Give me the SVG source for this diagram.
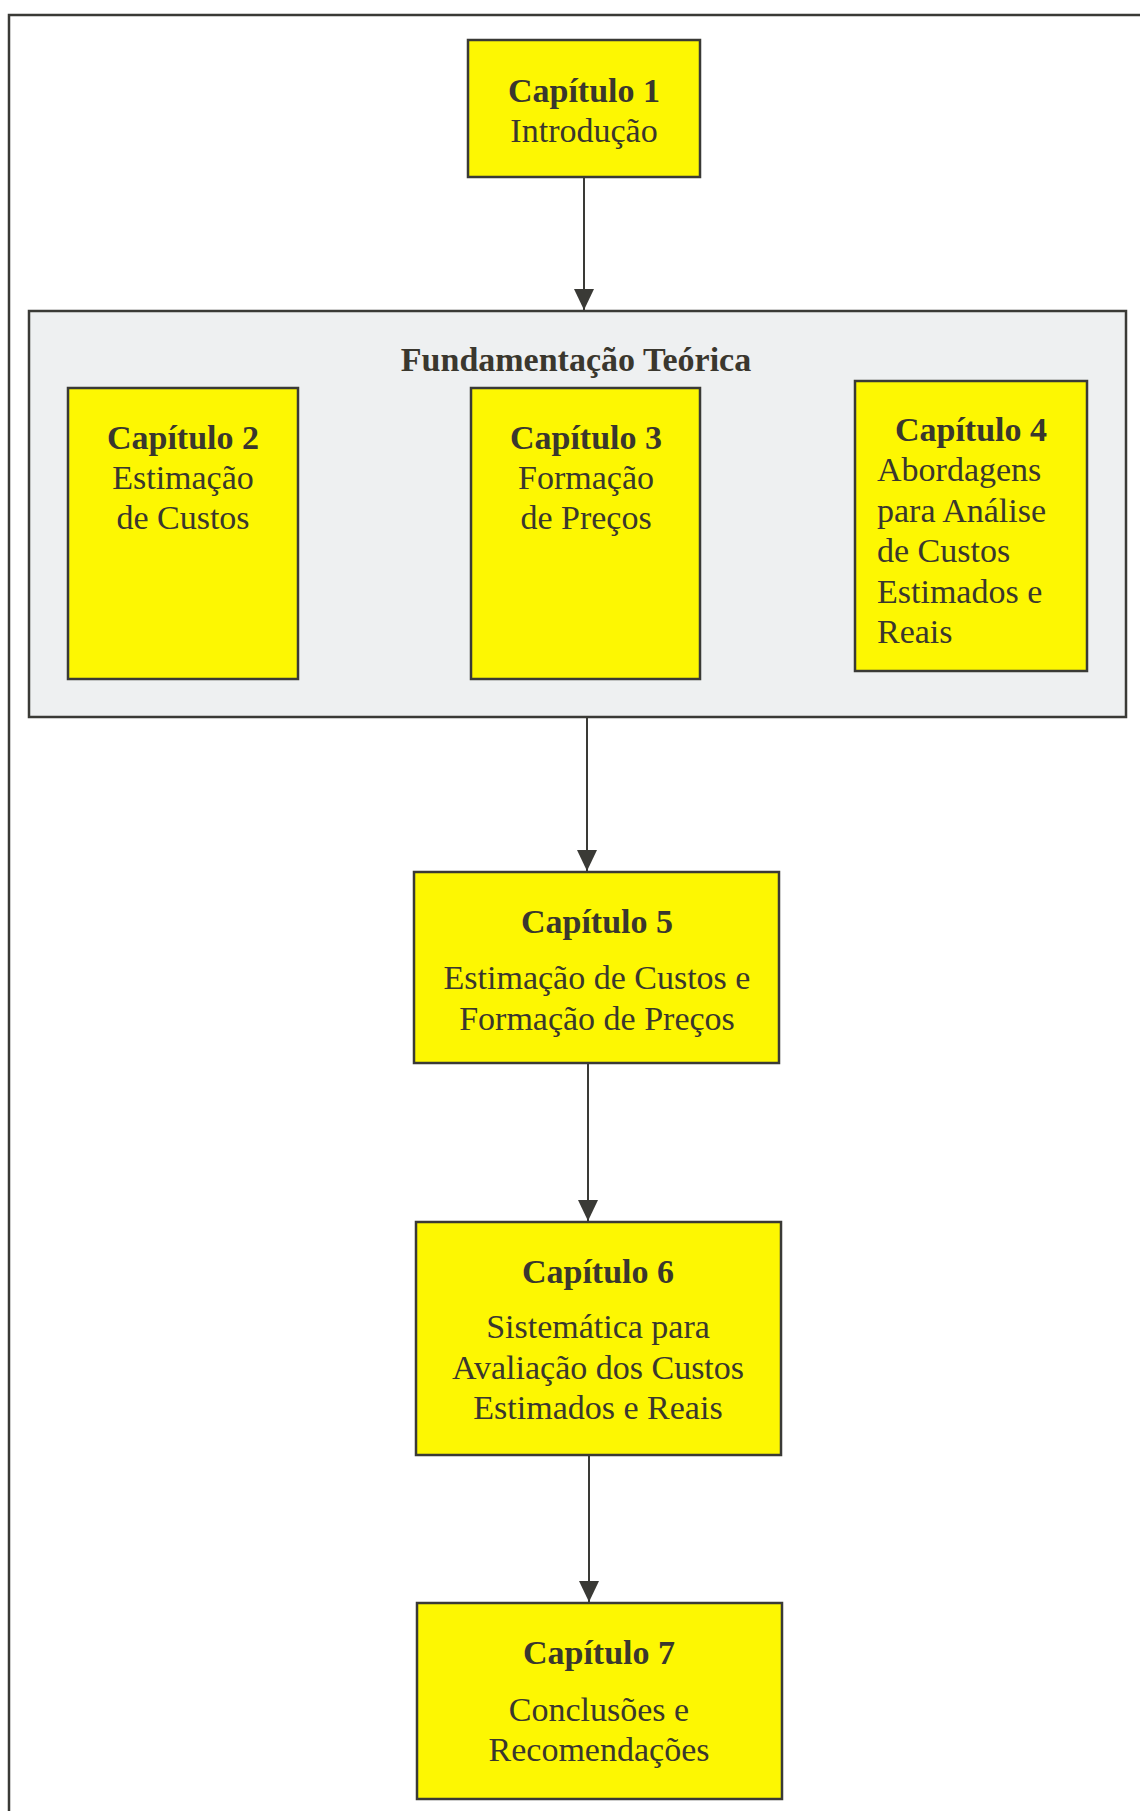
<svg xmlns="http://www.w3.org/2000/svg" width="1140" height="1811" viewBox="0 0 1140 1811">
<style>
.box{fill:#fdf702;stroke:#3a3a36;stroke-width:2.5}
.grp{fill:#eef0f1;stroke:#3a3a36;stroke-width:2.5}
.t{font-family:"Liberation Serif","Times New Roman",serif;font-size:34px;fill:#3a372e;text-anchor:middle}
.b{font-weight:bold}
.l{text-anchor:start}
.c{stroke:#3a3a36;stroke-width:2;fill:none;marker-end:url(#ah)}
.frame{stroke:#3a3a36;stroke-width:2.5;fill:none}
</style>
<defs>
<marker id="ah" markerUnits="userSpaceOnUse" markerWidth="22" markerHeight="22" viewBox="0 0 22 22" refX="21" refY="11" orient="auto">
<path d="M0,1 L21,11 L0,21 Z" fill="#3a3a36"/>
</marker>
</defs>
<rect width="1140" height="1811" fill="#ffffff"/>
<path class="frame" d="M1140,15 L9,15 L9,1811"/>
<g id="fundamentacao">
<rect class="grp" x="29" y="311" width="1097" height="406"/>
<text class="t b" x="576" y="371">Fundamentação Teórica</text>
</g>
<g id="cap1">
<rect class="box" x="468" y="40" width="232" height="137"/>
<text class="t b" x="584" y="102">Capítulo 1</text>
<text class="t" x="584" y="142">Introdução</text>
</g>
<g id="cap2">
<rect class="box" x="68" y="388" width="230" height="291"/>
<text class="t b" x="183" y="449">Capítulo 2</text>
<text class="t" x="183" y="489">Estimação</text>
<text class="t" x="183" y="529">de Custos</text>
</g>
<g id="cap3">
<rect class="box" x="471" y="388" width="229" height="291"/>
<text class="t b" x="586" y="449">Capítulo 3</text>
<text class="t" x="586" y="489">Formação</text>
<text class="t" x="586" y="529">de Preços</text>
</g>
<g id="cap4">
<rect class="box" x="855" y="381" width="232" height="290"/>
<text class="t b" x="971" y="441">Capítulo 4</text>
<text class="t l" x="877" y="481">Abordagens</text>
<text class="t l" x="877" y="522">para Análise</text>
<text class="t l" x="877" y="562">de Custos</text>
<text class="t l" x="877" y="603">Estimados e</text>
<text class="t l" x="877" y="643">Reais</text>
</g>
<g id="cap5">
<rect class="box" x="414" y="872" width="365" height="191"/>
<text class="t b" x="597" y="933">Capítulo 5</text>
<text class="t" x="597" y="989">Estimação de Custos e</text>
<text class="t" x="597" y="1030">Formação de Preços</text>
</g>
<g id="cap6">
<rect class="box" x="416" y="1222" width="365" height="233"/>
<text class="t b" x="598" y="1283">Capítulo 6</text>
<text class="t" x="598" y="1338">Sistemática para</text>
<text class="t" x="598" y="1379">Avaliação dos Custos</text>
<text class="t" x="598" y="1419">Estimados e Reais</text>
</g>
<g id="cap7">
<rect class="box" x="417" y="1603" width="365" height="196"/>
<text class="t b" x="599" y="1664">Capítulo 7</text>
<text class="t" x="599" y="1721">Conclusões e</text>
<text class="t" x="599" y="1761">Recomendações</text>
</g>
<g id="connectors">
<line class="c" x1="584" y1="177" x2="584" y2="310"/>
<line class="c" x1="587" y1="717" x2="587" y2="871"/>
<line class="c" x1="588" y1="1063" x2="588" y2="1221"/>
<line class="c" x1="589" y1="1455" x2="589" y2="1602"/>
</g>
</svg>
